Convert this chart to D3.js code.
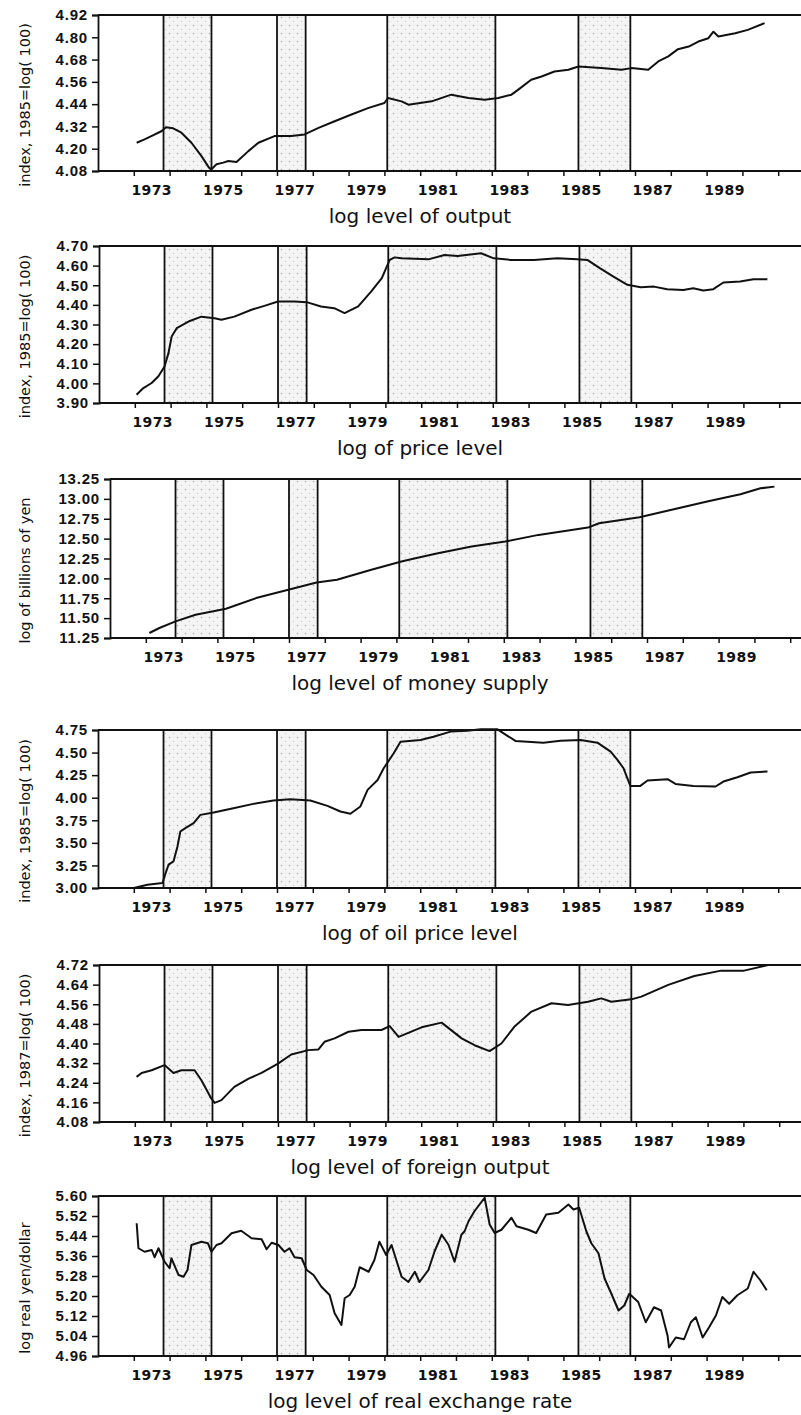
<!DOCTYPE html>
<html>
<head>
<meta charset="utf-8">
<script src="https://cdn.jsdelivr.net/npm/d3@7/dist/d3.min.js"></script>
<style>
    html, body { margin: 0; padding: 0; background: #fff; }
    svg { display: block; font-family: "DejaVu Sans", sans-serif; }
</style>
</head>
<body>
<svg id="chart" width="801" height="1415"></svg>
<script>
// ---- data (decimal years) ----
const yearLabels = [1973, 1975, 1977, 1979, 1981, 1983, 1985, 1987, 1989];
const shadeStart = [1973.83, 1977.0, 1980.08, 1985.42];
const shadeEnd   = [1975.17, 1977.8, 1983.1, 1986.87];

const outputTicks = [4.08, 4.20, 4.32, 4.44, 4.56, 4.68, 4.80, 4.92];
const outputDates = [1973.08, 1973.3, 1973.49, 1973.77, 1973.9, 1974.1, 1974.33, 1974.61, 1974.89, 1975.1, 1975.17,
    1975.31, 1975.5, 1975.64, 1975.87, 1976.2, 1976.48, 1976.93, 1977.4, 1977.77, 1978.16, 1978.61, 1979.08,
    1979.56, 1980.0, 1980.1, 1980.48, 1980.67, 1981.32, 1981.87, 1982.35, 1982.8, 1983.18, 1983.55, 1983.74,
    1984.1, 1984.39, 1984.75, 1985.14, 1985.42, 1986.06, 1986.62, 1986.9, 1987.37, 1987.65, 1987.93, 1988.2,
    1988.5, 1988.77, 1989.05, 1989.19, 1989.33, 1989.8, 1990.15, 1990.62];
const outputValues = [4.232, 4.25, 4.268, 4.294, 4.316, 4.31, 4.286, 4.232, 4.16, 4.098, 4.089,
    4.116, 4.125, 4.134, 4.128, 4.187, 4.232, 4.268, 4.268, 4.277, 4.312, 4.348, 4.384,
    4.42, 4.446, 4.473, 4.455, 4.437, 4.455, 4.491, 4.473, 4.464, 4.473, 4.491, 4.518,
    4.571, 4.589, 4.616, 4.625, 4.643, 4.634, 4.625, 4.634, 4.625, 4.67, 4.697, 4.736,
    4.75, 4.777, 4.795, 4.83, 4.804, 4.822, 4.84, 4.876];

const priceTicks = [3.90, 4.00, 4.10, 4.20, 4.30, 4.40, 4.50, 4.60, 4.70];
const priceDates = [1973.05, 1973.24, 1973.47, 1973.66, 1973.83, 1973.94, 1974.03, 1974.17, 1974.5, 1974.86,
    1975.23, 1975.42, 1975.78, 1976.26, 1976.62, 1977.0, 1977.46, 1977.8, 1978.2, 1978.57, 1978.86, 1979.24,
    1979.6, 1979.9, 1980.12, 1980.26, 1980.45, 1981.2, 1981.65, 1982.02, 1982.67, 1983.03, 1983.5, 1984.15,
    1984.8, 1985.36, 1985.64, 1986.0, 1986.37, 1986.76, 1987.13, 1987.5, 1987.87, 1988.32, 1988.6, 1988.88,
    1989.16, 1989.44, 1989.91, 1990.28, 1990.67];
const priceValues = [3.942, 3.976, 4.002, 4.036, 4.086, 4.154, 4.239, 4.281, 4.315, 4.34,
    4.332, 4.324, 4.34, 4.375, 4.395, 4.417, 4.417, 4.414, 4.392, 4.383, 4.358, 4.392,
    4.468, 4.536, 4.629, 4.642, 4.637, 4.632, 4.654, 4.649, 4.663, 4.637, 4.629, 4.629,
    4.637, 4.632, 4.629, 4.586, 4.544, 4.502, 4.49, 4.493, 4.48, 4.476, 4.485, 4.473,
    4.48, 4.514, 4.519, 4.531, 4.531];

const moneyTicks = [11.25, 11.50, 11.75, 12.00, 12.25, 12.50, 12.75, 13.00, 13.25];
const moneyDates = [1973.1, 1973.38, 1973.83, 1974.39, 1975.24, 1976.08, 1976.98, 1977.77, 1978.34, 1979.3,
    1980.14, 1980.5, 1981.16, 1982.1, 1983.04, 1983.97, 1985.35, 1985.66, 1986.79, 1987.75, 1988.68, 1989.61,
    1990.17, 1990.56];
const moneyValues = [11.313, 11.376, 11.459, 11.543, 11.618, 11.752, 11.857, 11.949, 11.982, 12.108,
    12.212, 12.25, 12.317, 12.4, 12.463, 12.547, 12.639, 12.693, 12.769, 12.869, 12.966, 13.058,
    13.133, 13.154];

const oilTicks = [3.00, 3.25, 3.50, 3.75, 4.00, 4.25, 4.50, 4.75];
const oilDates = [1973.0, 1973.38, 1973.8, 1973.89, 1973.97, 1974.11, 1974.22, 1974.3, 1974.44, 1974.67, 1974.86,
    1975.23, 1975.78, 1976.34, 1976.9, 1977.37, 1977.93, 1978.41, 1978.77, 1979.05, 1979.33, 1979.53, 1979.81,
    1979.98, 1980.26, 1980.45, 1981.01, 1981.37, 1981.85, 1982.32, 1982.69, 1983.16, 1983.33, 1983.66, 1984.44,
    1984.92, 1985.48, 1985.95, 1986.32, 1986.51, 1986.68, 1986.87, 1987.15, 1987.35, 1987.91, 1988.13, 1988.63,
    1989.25, 1989.47, 1989.86, 1990.23, 1990.7];
const oilValues = [3.0, 3.037, 3.055, 3.166, 3.258, 3.295, 3.46, 3.626, 3.663, 3.718, 3.81,
    3.836, 3.884, 3.932, 3.969, 3.984, 3.969, 3.91, 3.847, 3.822, 3.903, 4.087, 4.197,
    4.326, 4.492, 4.621, 4.64, 4.676, 4.732, 4.743, 4.757, 4.757, 4.713, 4.629, 4.61,
    4.632, 4.64, 4.61, 4.511, 4.419, 4.326, 4.131, 4.131, 4.19, 4.205, 4.153, 4.131,
    4.124, 4.179, 4.227, 4.279, 4.29];

const foreignTicks = [4.08, 4.16, 4.24, 4.32, 4.40, 4.48, 4.56, 4.64, 4.72];
const foreignDates = [1973.05, 1973.19, 1973.47, 1973.83, 1974.08, 1974.3, 1974.67, 1974.86, 1975.14, 1975.23,
    1975.42, 1975.78, 1976.18, 1976.54, 1977.0, 1977.37, 1977.85, 1978.13, 1978.3, 1978.58, 1978.97, 1979.33,
    1979.89, 1980.12, 1980.37, 1981.01, 1981.57, 1982.13, 1982.49, 1982.91, 1983.24, 1983.6, 1984.08, 1984.64,
    1985.1, 1985.66, 1986.03, 1986.31, 1986.87, 1987.15, 1987.9, 1988.63, 1989.38, 1990.02, 1990.69];
const foreignValues = [4.264, 4.28, 4.291, 4.312, 4.28, 4.291, 4.291, 4.25, 4.175, 4.158,
    4.169, 4.223, 4.257, 4.28, 4.318, 4.355, 4.373, 4.376, 4.407, 4.421, 4.448, 4.455,
    4.455, 4.471, 4.427, 4.466, 4.485, 4.421, 4.393, 4.369, 4.4, 4.468, 4.53, 4.564,
    4.557, 4.57, 4.584, 4.57, 4.58, 4.591, 4.639, 4.675, 4.697, 4.697, 4.72];

const rateTicks = [4.96, 5.04, 5.12, 5.20, 5.28, 5.36, 5.44, 5.52, 5.60];
const rateDates = [1973.08, 1973.13, 1973.3, 1973.5, 1973.58, 1973.69, 1973.86, 1974.0, 1974.05, 1974.25, 1974.39,
    1974.5, 1974.61, 1974.89, 1975.07, 1975.17, 1975.31, 1975.45, 1975.73, 1976.0, 1976.29, 1976.57, 1976.71,
    1976.85, 1977.04, 1977.21, 1977.35, 1977.49, 1977.69, 1977.83, 1978.02, 1978.24, 1978.47, 1978.61, 1978.8,
    1978.89, 1979.03, 1979.17, 1979.31, 1979.56, 1979.72, 1979.86, 1980.05, 1980.2, 1980.48, 1980.67, 1980.85,
    1980.98, 1981.23, 1981.4, 1981.6, 1981.79, 1981.96, 1982.15, 1982.24, 1982.35, 1982.52, 1982.8, 1982.94,
    1983.08, 1983.27, 1983.55, 1983.69, 1984.02, 1984.24, 1984.52, 1984.86, 1985.14, 1985.28, 1985.44, 1985.64,
    1985.78, 1985.98, 1986.15, 1986.34, 1986.54, 1986.7, 1986.84, 1987.09, 1987.3, 1987.53, 1987.73, 1987.91,
    1987.95, 1988.14, 1988.37, 1988.56, 1988.7, 1988.89, 1989.07, 1989.26, 1989.44, 1989.63, 1989.86, 1990.15,
    1990.31, 1990.5, 1990.68];
const rateValues = [5.491, 5.391, 5.377, 5.384, 5.355, 5.391, 5.337, 5.311, 5.351, 5.284, 5.277,
    5.304, 5.404, 5.417, 5.411, 5.377, 5.404, 5.411, 5.451, 5.461, 5.431, 5.427, 5.387,
    5.413, 5.404, 5.377, 5.391, 5.355, 5.351, 5.304, 5.284, 5.237, 5.204, 5.131, 5.084,
    5.191, 5.204, 5.237, 5.315, 5.297, 5.344, 5.417, 5.364, 5.404, 5.277, 5.256, 5.297,
    5.256, 5.304, 5.378, 5.445, 5.405, 5.337, 5.445, 5.459, 5.499, 5.54, 5.593, 5.486,
    5.452, 5.465, 5.513, 5.479, 5.465, 5.452, 5.526, 5.533, 5.566, 5.546, 5.553, 5.459,
    5.411, 5.371, 5.27, 5.209, 5.142, 5.162, 5.209, 5.176, 5.095, 5.155, 5.142, 5.041,
    4.994, 5.034, 5.027, 5.095, 5.115, 5.034, 5.075, 5.122, 5.196, 5.169, 5.203, 5.23,
    5.297, 5.263, 5.223];

// ---- panel layout ----
const panels = [
    { top: 15,   bottom: 171,  x0: 98,  ticks: outputTicks,  dates: outputDates,  values: outputValues,
      yLabel: 'index, 1985=log( 100)', title: 'log level of output' },
    { top: 246,  bottom: 403,  x0: 99,  ticks: priceTicks,   dates: priceDates,   values: priceValues,
      yLabel: 'index, 1985=log( 100)', title: 'log of price level' },
    { top: 479,  bottom: 638,  x0: 110, ticks: moneyTicks,   dates: moneyDates,   values: moneyValues,
      yLabel: 'log of billions of yen', title: 'log level of money supply' },
    { top: 730,  bottom: 888,  x0: 98,  ticks: oilTicks,     dates: oilDates,     values: oilValues,
      yLabel: 'index, 1985=log( 100)', title: 'log of oil price level' },
    { top: 965,  bottom: 1122, x0: 99,  ticks: foreignTicks, dates: foreignDates, values: foreignValues,
      yLabel: 'index, 1987=log( 100)', title: 'log level of foreign output' },
    { top: 1196, bottom: 1356, x0: 98,  ticks: rateTicks,    dates: rateDates,    values: rateValues,
      yLabel: 'log real yen/dollar', title: 'log level of real exchange rate' }
];

const pxPerYear = 35.8;
const svg = d3.select('#chart');

// stipple used for the shaded periods
const defs = svg.append('defs');
const pat = defs.append('pattern')
    .attr('id', 'stipple')
    .attr('width', 8).attr('height', 8)
    .attr('patternUnits', 'userSpaceOnUse');
pat.append('rect').attr('width', 8).attr('height', 8).attr('fill', '#f4f4f4');
pat.append('circle').attr('cx', 1.5).attr('cy', 1.5).attr('r', 0.7).attr('fill', '#a0a0a0');
pat.append('circle').attr('cx', 5.5).attr('cy', 5.5).attr('r', 0.6).attr('fill', '#bdbdbd');

//____________________________________________________________
//
function drawPanel(p) {
    const x = d3.scaleLinear()
        .domain([1972, 1992])
        .range([p.x0, p.x0 + 20 * pxPerYear]);
    const y = d3.scaleLinear()
        .domain(d3.extent(p.ticks))
        .range([p.bottom, p.top]);

    const g = svg.append('g');

    // shaded periods
    const spans = shadeStart.map((s, i) => [s, shadeEnd[i]]);
    g.append('g')
        .selectAll('rect')
        .data(spans)
        .join('rect')
        .attr('x', d => x(d[0]))
        .attr('width', d => x(d[1]) - x(d[0]))
        .attr('y', p.top)
        .attr('height', p.bottom - p.top)
        .attr('fill', 'url(#stipple)');

    g.append('g')
        .selectAll('line')
        .data(spans.flat())
        .join('line')
        .attr('x1', d => x(d)).attr('x2', d => x(d))
        .attr('y1', p.top).attr('y2', p.bottom)
        .attr('stroke', '#111')
        .attr('stroke-width', 1.8);

    // top border
    g.append('line')
        .attr('x1', p.x0).attr('x2', 801)
        .attr('y1', p.top).attr('y2', p.top)
        .attr('stroke', '#111').attr('stroke-width', 1.8);

    // y axis
    const yAxis = g.append('g')
        .attr('transform', `translate(${p.x0},0)`)
        .call(d3.axisLeft(y).tickValues(p.ticks).tickFormat(d3.format('.2f')).tickSize(6).tickPadding(4));
    yAxis.select('.domain').attr('stroke', '#111').attr('stroke-width', 1.8);
    yAxis.selectAll('.tick line').attr('stroke', '#111').attr('stroke-width', 1.5);
    yAxis.selectAll('.tick text')
        .attr('font-size', 15)
        .attr('font-weight', 'bold')
        .attr('letter-spacing', 0.8)
        .attr('fill', '#111');

    // x axis: yearly ticks, labels in the middle of odd years
    const xAxis = g.append('g')
        .attr('transform', `translate(0,${p.bottom})`)
        .call(d3.axisBottom(x).tickValues(d3.range(1973, 1992)).tickFormat('').tickSize(5));
    xAxis.select('.domain').remove();
    xAxis.selectAll('.tick line').attr('stroke', '#111').attr('stroke-width', 1.5);

    g.append('line')
        .attr('x1', p.x0).attr('x2', 801)
        .attr('y1', p.bottom).attr('y2', p.bottom)
        .attr('stroke', '#111').attr('stroke-width', 1.8);

    g.append('g')
        .selectAll('text')
        .data(yearLabels)
        .join('text')
        .attr('x', d => x(d + 0.5))
        .attr('y', p.bottom + 19)
        .attr('text-anchor', 'middle')
        .attr('dominant-baseline', 'central')
        .attr('font-size', 14)
        .attr('font-weight', 'bold')
        .attr('letter-spacing', 0.4)
        .attr('fill', '#111')
        .text(d => d);

    // series line
    const pts = p.dates.map((d, i) => [d, p.values[i]]);
    g.append('path')
        .datum(pts)
        .attr('fill', 'none')
        .attr('stroke', '#111')
        .attr('stroke-width', 2)
        .attr('stroke-linejoin', 'round')
        .attr('d', d3.line().x(d => x(d[0])).y(d => y(d[1])));

    // labels
    g.append('text')
        .attr('transform', `translate(25,${(p.top + p.bottom) / 2 + 12}) rotate(-90)`)
        .attr('text-anchor', 'middle')
        .attr('dominant-baseline', 'central')
        .attr('font-size', 14.5)
        .attr('fill', '#111')
        .text(p.yLabel);

    g.append('text')
        .attr('x', 420)
        .attr('y', p.bottom + 45)
        .attr('text-anchor', 'middle')
        .attr('dominant-baseline', 'central')
        .attr('font-size', 20)
        .attr('fill', '#111')
        .text(p.title);
}

panels.forEach(drawPanel);
</script>
</body>
</html>
